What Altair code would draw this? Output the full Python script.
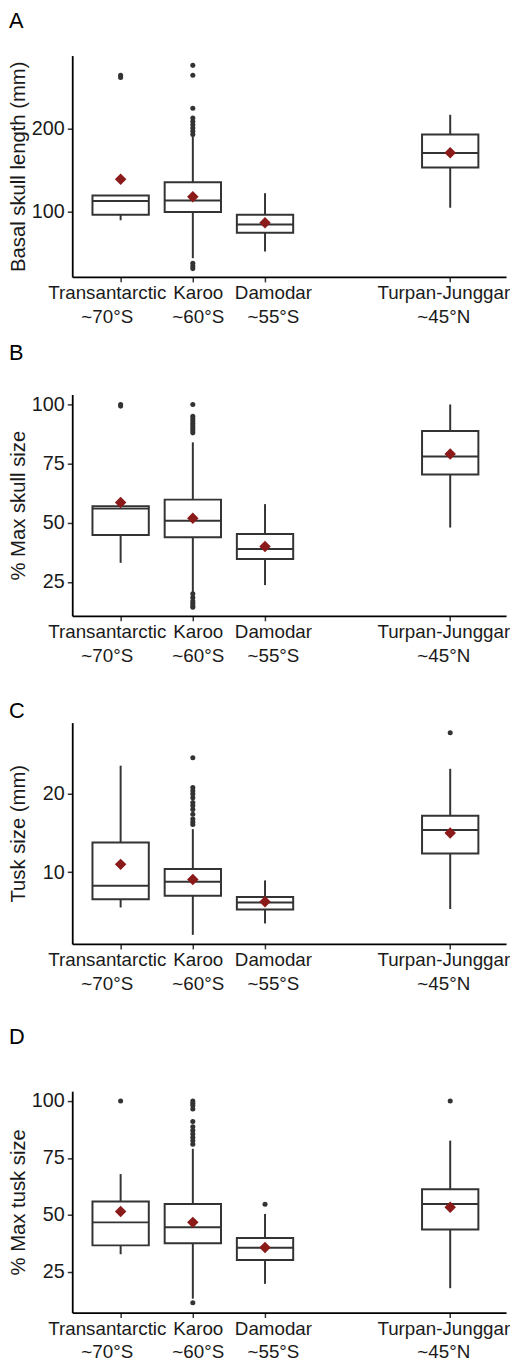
import altair as alt
import pandas as pd

# ---------------- data ----------------
sites = ["Transantarctic", "Karoo", "Damodar", "Turpan-Junggar"]
latitudes = ["~70°S", "~60°S", "~55°S", "~45°N"]
site_slot = [1, 2, 3, 5.565]

# Panel A: basal skull length (mm)
a_low = [89.2, 43.2, 51.3, 104.4]
a_q1 = [96.0, 99.3, 74.1, 153.3]
a_med = [112.5, 113.2, 84.0, 170.8]
a_q3 = [119.2, 135.3, 96.0, 193.3]
a_high = [119.2, 190.9, 122.1, 217.3]
a_mean = [138.9, 117.8, 86.1, 171.3]
a_out = [[265.3, 262.5],
         [277.3, 265.3, 225.3, 213.3, 209.2, 205.3, 201.3, 197.2, 193.3, 36.9, 33.6, 30.5],
         [], []]

# Panel B: % max skull size
b_low = [33.1, 20.5, 23.7, 48.0]
b_q1 = [44.9, 43.9, 34.7, 70.4]
b_med = [56.0, 50.9, 38.9, 78.0]
b_q3 = [57.0, 59.8, 45.3, 88.8]
b_high = [57.0, 84.0, 57.9, 100.0]
b_mean = [58.6, 51.9, 40.0, 79.1]
b_out = [[100.0, 99.3],
         [100.0, 95.0, 94.0, 93.0, 92.0, 91.0, 90.0, 89.0, 88.0, 20.0, 18.5, 17.0, 16.0, 15.0, 14.3],
         [], []]

# Panel C: tusk size (mm)
c_low = [5.5, 2.0, 3.46, 5.3]
c_q1 = [6.54, 7.0, 5.23, 12.4]
c_med = [8.27, 8.78, 6.12, 15.4]
c_q3 = [13.8, 10.4, 6.84, 17.2]
c_high = [23.6, 15.5, 8.95, 23.2]
c_mean = [11.0, 9.07, 6.24, 15.0]
c_out = [[],
         [24.6, 20.8, 20.4, 20.0, 19.5, 18.9, 18.5, 18.0, 17.4, 16.8, 16.4, 16.1],
         [], [27.8]]

# Panel D: % max tusk size
d_low = [32.7, 13.2, 19.7, 17.8]
d_q1 = [36.6, 37.5, 30.2, 43.6]
d_med = [46.7, 44.6, 35.6, 54.8]
d_q3 = [55.9, 54.8, 39.8, 61.2]
d_high = [67.9, 79.0, 50.4, 82.6]
d_mean = [51.5, 46.7, 35.7, 53.3]
d_out = [[100.0],
         [100.0, 99.0, 98.0, 96.5, 91.0, 88.7, 87.0, 85.5, 84.0, 82.5, 81.0, 11.4],
         [54.7], [100.0]]

FONT = "Liberation Sans"
INK = "#333333"
MEAN_COLOR = "#8B1A1A"

label_expr = " : ".join(
    [f"datum.value < {t} ? ['{s}', '{l}']" for s, l, t in zip(sites[:3], latitudes[:3], [1.5, 2.5, 4])]
    + [f"['{sites[3]}', '{latitudes[3]}']"]
)


def panel(letter, ytitle, low, q1, med, q3, high, mean, outs, yticks, ydom, toff):
    df = pd.DataFrame({"slot": site_slot, "site": sites, "low": low, "q1": q1,
                       "med": med, "q3": q3, "high": high, "mean": mean})
    orows = [{"slot": site_slot[i], "value": v} for i, vals in enumerate(outs) for v in vals]
    odf = pd.DataFrame(orows, columns=["slot", "value"])

    xaxis = alt.Axis(
        title=None, values=site_slot, labelExpr=label_expr, grid=False,
        labelOverlap=False, labelFlush=False, labelLineHeight=24,
        labelFontSize=19, labelPadding=2, tickSize=5,
        labelOffset={"condition": [{"test": "datum.value < 1.5", "value": -14},
                                   {"test": "datum.value < 2.5", "value": 5},
                                   {"test": "datum.value < 4", "value": 8}],
                     "value": -7},
    )
    xs = alt.Scale(domain=[0.398, 6.27], nice=False, zero=False)
    ys = alt.Scale(domain=ydom, nice=False, zero=False)
    yaxis = alt.Axis(title=ytitle, values=yticks, grid=False, labelFontSize=20,
                     labelPadding=3, tickSize=5, titleFontSize=20.5,
                     titleFontWeight="normal", titleAngle=270, titleX=-54,
                     titleAlign="center", titleBaseline="middle")

    def X():
        return alt.X("slot:Q", scale=xs, axis=xaxis)

    def Y(f):
        return alt.Y(f"{f}:Q", scale=ys, axis=yaxis)

    base = alt.Chart(df)
    w_lo = base.mark_rule(color=INK, strokeWidth=2).encode(x=X(), y=Y("low"), y2="q1:Q")
    w_hi = base.mark_rule(color=INK, strokeWidth=2).encode(x=X(), y=Y("q3"), y2="high:Q")
    box = base.mark_bar(size=57, fill="white", stroke=INK, strokeWidth=2).encode(
        x=X(), y=Y("q1"), y2="q3:Q")
    mid = base.mark_tick(orient="horizontal", size=57, thickness=2, color=INK,
                         opacity=1).encode(x=X(), y=Y("med"))
    pts = alt.Chart(odf).mark_circle(size=26, color=INK, opacity=1).encode(
        x=X(), y=Y("value"))
    mn = base.mark_point(shape="diamond", filled=True, size=135, color=MEAN_COLOR,
                         opacity=1).encode(x=X(), y=Y("mean"))
    return alt.layer(w_lo, w_hi, box, mid, pts, mn).properties(
        width=439, height=224,
        title=alt.TitleParams(letter, anchor="start", frame="bounds", fontSize=22,
                              fontWeight="normal", color="black", font=FONT,
                              offset=toff),
    )


pA = panel("A", "Basal skull length (mm)", a_low, a_q1, a_med, a_q3, a_high, a_mean, a_out,
           [100, 200], [20.4, 289.2], 23)
pB = panel("B", "% Max skull size", b_low, b_q1, b_med, b_q3, b_high, b_mean, b_out,
           [25, 50, 75, 100], [10.7, 104.2], 30)
pC = panel("C", "Tusk size (mm)", c_low, c_q1, c_med, c_q3, c_high, c_mean, c_out,
           [10, 20], [0.84, 29.1], 0)
pD = panel("D", "% Max tusk size", d_low, d_q1, d_med, d_q3, d_high, d_mean, d_out,
           [25, 50, 75, 100], [7.1, 104.3], 43)

inner2 = alt.vconcat(pC, pD, spacing=32)
inner1 = alt.vconcat(pB, inner2, spacing=35)
chart = alt.vconcat(pA, inner1, spacing=16).properties(
    padding={"left": 0, "top": -6, "right": 0, "bottom": 0}
).configure_view(stroke=None).configure_axis(
    domainColor="black", domainWidth=1.8, tickColor=INK, tickWidth=1.5,
    labelColor="#1a1a1a", titleColor="#1a1a1a", labelFont=FONT, titleFont=FONT,
)

chart.save("out.html", embed_options={"renderer": "svg", "actions": False})
